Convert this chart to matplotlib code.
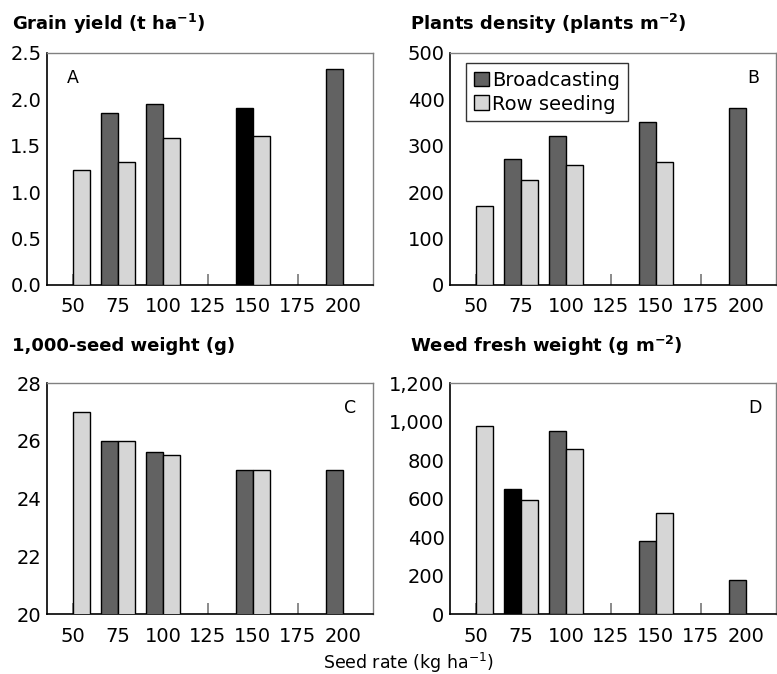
import numpy as np
import matplotlib
matplotlib.use('Agg')
import matplotlib.pyplot as plt
from matplotlib.patches import Patch

plt.rcParams['font.family'] = ['DejaVu Sans']
plt.rcParams['mathtext.fontset'] = 'dejavusans'

# seed rates on x axis
rates = [50, 75, 100, 125, 150, 175, 200]
tick_labels = ['50', '75', '100', '125', '150', '175', '200']

# nan = no bar at that seed rate
yield_broad = [np.nan, 1.85, 1.95, np.nan, 1.91, np.nan, 2.33]
yield_row = [1.24, 1.33, 1.58, np.nan, 1.60, np.nan, np.nan]
density_broad = [np.nan, 272, 321, np.nan, 352, np.nan, 381]
density_row = [171, 227, 258, np.nan, 266, np.nan, np.nan]
seedwt_broad = [np.nan, 26.0, 25.6, np.nan, 25.0, np.nan, 25.0]
seedwt_row = [27.0, 26.0, 25.5, np.nan, 25.0, np.nan, np.nan]
weed_broad = [np.nan, 650, 950, np.nan, 378, np.nan, 178]
weed_row = [975, 590, 855, np.nan, 525, np.nan, np.nan]

# bars printed in black in the original
yield_black = [150]
weed_black = [75]

yticks_A = [0.0, 0.5, 1.0, 1.5, 2.0, 2.5]
ylabels_A = ['0.0', '0.5', '1.0', '1.5', '2.0', '2.5']
yticks_B = [0, 100, 200, 300, 400, 500]
ylabels_B = ['0', '100', '200', '300', '400', '500']
yticks_C = [20, 22, 24, 26, 28]
ylabels_C = ['20', '22', '24', '26', '28']
yticks_D = [0, 200, 400, 600, 800, 1000, 1200]
ylabels_D = ['0', '200', '400', '600', '800', '1,000', '1,200']

DARK = '#626262'
LIGHT = '#d6d6d6'
W = 9.3

fig = plt.figure(figsize=(7.77, 6.74), dpi=100)

panels = [
    # rect, broad, row, black, yticks, ylabels, letter, letter x, title, title pos
    ([0.0605, 0.5772, 0.4196, 0.3442], yield_broad, yield_row, yield_black,
     yticks_A, ylabels_A, 'A', 0.06, r'Grain yield (t ha$^{\mathbf{-1}}$)', (12, 24)),
    ([0.5792, 0.5772, 0.4196, 0.3442], density_broad, density_row, [],
     yticks_B, ylabels_B, 'B', 0.93, r'Plants density (plants m$^{\mathbf{-2}}$)', (410, 24)),
    ([0.0605, 0.0890, 0.4196, 0.3427], seedwt_broad, seedwt_row, [],
     yticks_C, ylabels_C, 'C', 0.93, '1,000-seed weight (g)', (12, 346)),
    ([0.5792, 0.0890, 0.4196, 0.3427], weed_broad, weed_row, weed_black,
     yticks_D, ylabels_D, 'D', 0.935, r'Weed fresh weight (g m$^{\mathbf{-2}}$)', (410, 346)),
]

for rect, broad, row, black, yt, yl, letter, lx, title, tpos in panels:
    ax = fig.add_axes(rect)
    bcolors = ['black' if r in black else DARK for r in rates]
    ax.bar(np.array(rates) - W, broad, width=W, align='edge', color=bcolors,
           edgecolor='black', linewidth=1, zorder=3)
    ax.bar(rates, row, width=W, align='edge', color=LIGHT,
           edgecolor='black', linewidth=1, zorder=3)
    ax.set_xlim(35.6, 216.8)
    ax.set_ylim(yt[0], yt[-1])
    ax.set_xticks(rates)
    ax.set_xticklabels(tick_labels, fontsize=14)
    ax.set_yticks(yt)
    ax.set_yticklabels(yl, fontsize=14)
    ax.tick_params(axis='x', direction='in', length=8, width=1.2, color='#777777', pad=9)
    ax.tick_params(axis='y', length=0, pad=4)
    for s in ['left', 'bottom']:
        ax.spines[s].set_color('black')
        ax.spines[s].set_linewidth(1.2)
    for s in ['top', 'right']:
        ax.spines[s].set_color('#808080')
        ax.spines[s].set_linewidth(1)
    ax.text(lx, 0.89, letter, transform=ax.transAxes, fontsize=12.5,
            ha='left' if letter == 'A' else 'center', va='center')
    fig.text(tpos[0] / 777, 1 - tpos[1] / 674, title, fontsize=13,
             fontweight='bold', ha='left', va='center')
    if letter == 'B':
        handles = [Patch(facecolor=DARK, edgecolor='black', label='Broadcasting'),
                   Patch(facecolor=LIGHT, edgecolor='black', label='Row seeding')]
        leg = ax.legend(handles=handles, loc='upper left', bbox_to_anchor=(0.049, 0.957),
                        borderaxespad=0, fontsize=14, frameon=True, fancybox=False,
                        handlelength=0.8, handleheight=0.8, handletextpad=0.15,
                        borderpad=0.4, labelspacing=0.25)
        leg.get_frame().set_edgecolor('black')
        leg.get_frame().set_linewidth(1)

fig.text(0.525, 0.016, r'Seed rate (kg ha$^{-1}$)', fontsize=12.5, ha='center', va='center')

fig.savefig('out.png', dpi=100)
